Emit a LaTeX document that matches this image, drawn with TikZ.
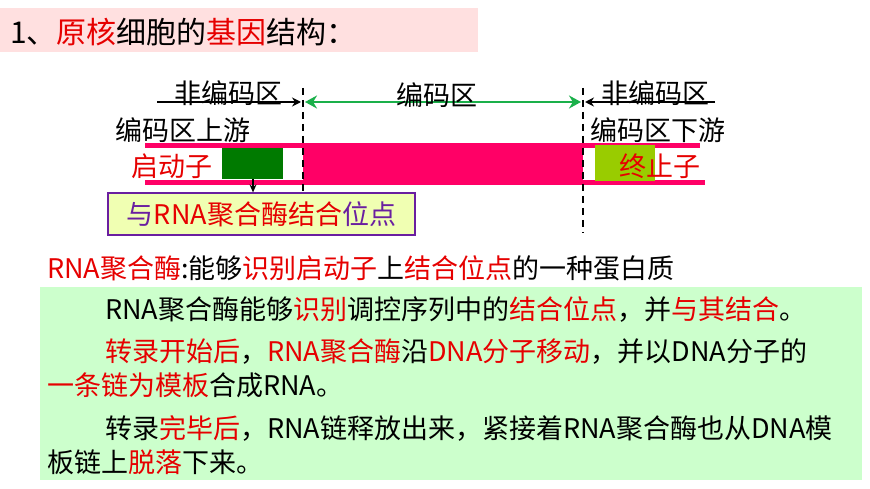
\documentclass[tikz,border=0pt]{standalone}
\usepackage{fontspec}
\setmainfont{Noto Sans CJK SC}
\usetikzlibrary{arrows.meta}
\definecolor{rd}{HTML}{E60000}
\definecolor{pk}{HTML}{FF0066}
\definecolor{dg}{HTML}{007A00}
\definecolor{yg}{HTML}{99CC00}
\definecolor{gr}{HTML}{1AB04A}
\definecolor{pu}{HTML}{6A1FA0}
\begin{document}
\begin{tikzpicture}[x=1pt,y=-1pt,
  txt/.style={inner sep=0pt,anchor=west,font=\fontsize{27}{30}\selectfont},
  lbl/.style={inner sep=0pt,font=\fontsize{27}{30}\selectfont},
  dsh/.style={dashed,line width=1.6pt,dash pattern=on 7pt off 5pt}]
\useasboundingbox (0,0) rectangle (870,489);
\fill[white] (0,0) rectangle (870,489);
% title
\fill[red!12] (0,8) rectangle (478,52);
\node[txt,font=\fontsize{30}{34}\selectfont] (title) at (10,32) {1、\textcolor{rd}{原核}细胞的\textcolor{rd}{基因}结构：};
% strips
\fill[pk] (145,143) rectangle (700,148);
\fill[pk] (145,180) rectangle (705,185);
\fill[pk] (303,143) rectangle (583,185);
\fill[dg] (222,148) rectangle (283,179);
\fill[yg] (595,145) rectangle (655,181);
% dashed
\coordinate (d1t) at (303,88); \coordinate (d1b) at (303,233);
\coordinate (d2t) at (583,88); \coordinate (d2b) at (583,233);
\draw[dsh] (d1t) -- (d1b);
\draw[dsh] (d2t) -- (d2b);
% arrows
\coordinate (la) at (157,102); \coordinate (lb) at (301,102);
\coordinate (ga) at (305,102); \coordinate (gb) at (581,102);
\coordinate (ra) at (715,102); \coordinate (rb) at (585,102);
\draw[line width=1.6pt,-{Stealth[length=9pt,width=9pt]}] (la) -- (lb);
\draw[gr,line width=2.6pt,{Stealth[length=12pt,width=13pt]}-{Stealth[length=12pt,width=13pt]}] (ga) -- (gb);
\draw[line width=1.6pt,-{Stealth[length=9pt,width=9pt]}] (ra) -- (rb);
\node[lbl] (n1) at (228,93) {非编码区};
\node[lbl] (n2) at (437,95) {编码区};
\node[lbl] (n3) at (655,93) {非编码区};
\node[txt] (up) at (115,130) {编码区上游};
\node[txt] (down) at (590,130) {编码区下游};
\node[txt,text=rd] (prom) at (131,166) {启动子};
\node[lbl,text=rd] (term) at (660,166) {终止子};
% binding box
\node[draw=pu,line width=1.2pt,fill=green!20!yellow!30,inner sep=3pt,minimum width=307pt,minimum height=42pt,font=\fontsize{27}{30}\selectfont] (box) at (261.5,214) {\textcolor{pu}{与}\textcolor{rd}{RNA聚合酶结合}\textcolor{pu}{位点}};
\coordinate (ps) at (253,179);
\draw[line width=1.2pt,-{Stealth[length=8pt,width=7pt]}] (ps) -- (box.north -| ps);
% text
\node[txt] (l0) at (47,268) {\textcolor{rd}{RNA聚合酶}:能够\textcolor{rd}{识别启动子}上\textcolor{rd}{结合位点}的一种蛋白质};
\fill[green!20] (40,287) rectangle (862,480);
\node[txt] (l1) at (105,310) {RNA聚合酶能够\textcolor{rd}{识别}调控序列中的\textcolor{rd}{结合位点}，并\textcolor{rd}{与其结合}。};
\node[txt] (l2) at (105,352) {\textcolor{rd}{转录开始后}，\textcolor{rd}{RNA聚合酶}沿\textcolor{rd}{DNA分子移动}，并以DNA分子的};
\node[txt] (l3) at (47,385) {\textcolor{rd}{一条链为模板}合成RNA。};
\node[txt] (l4) at (105,428) {转录\textcolor{rd}{完毕后}，RNA链释放出来，紧接着RNA聚合酶也从DNA模};
\node[txt] (l5) at (47,462) {板链上\textcolor{rd}{脱落}下来。};
\end{tikzpicture}
\end{document}
